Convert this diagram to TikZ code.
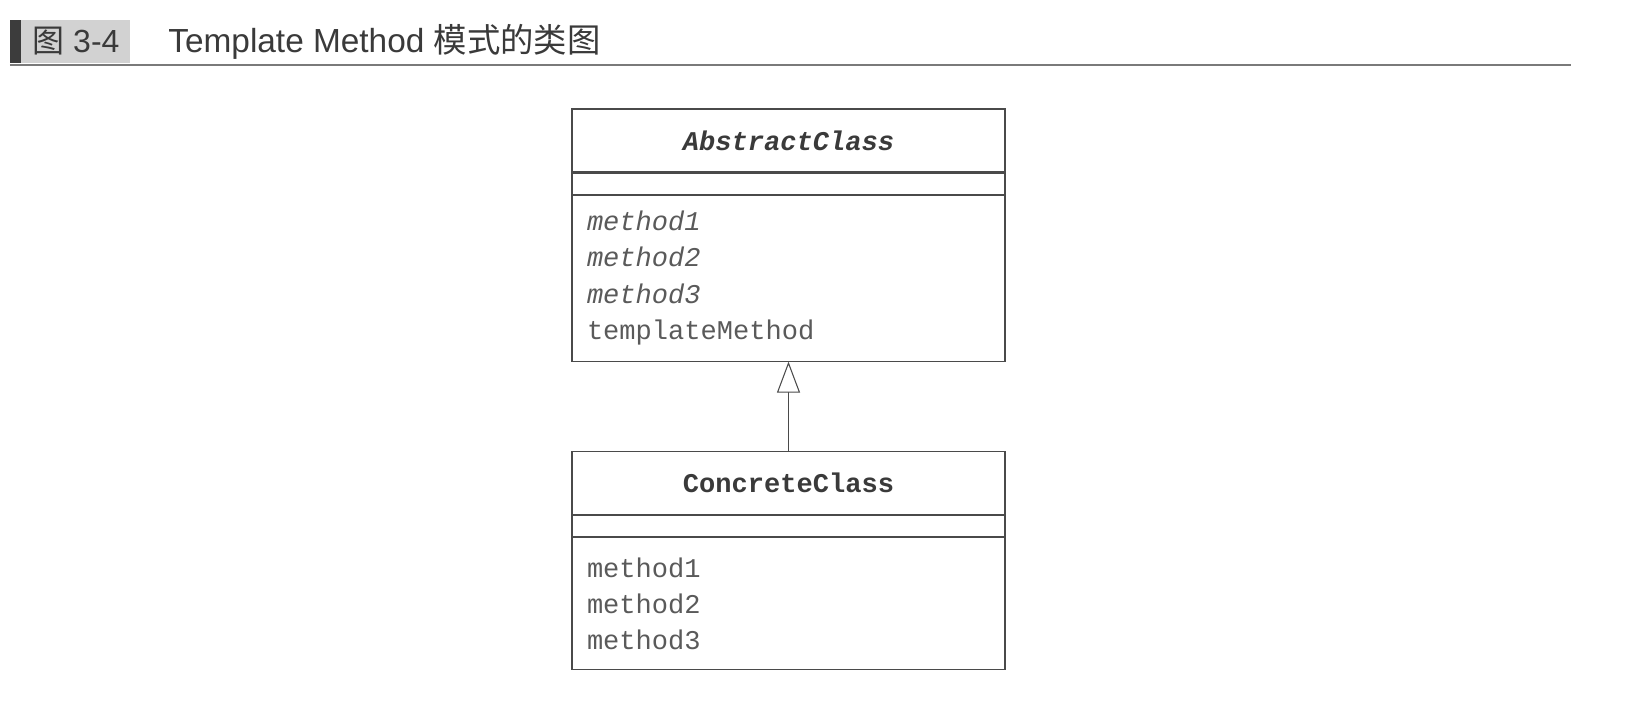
\documentclass[tikz,border=0pt]{standalone}
\usepackage{fontspec}
\setmainfont{Liberation Sans}
\setmonofont{Liberation Mono}
\newfontfamily\cjk{Noto Sans CJK SC}
\usetikzlibrary{positioning,arrows.meta}
\definecolor{umlline}{HTML}{4A4A4A}
\definecolor{umltext}{HTML}{5A5A5A}
\definecolor{umltitle}{HTML}{3A3A3A}
\definecolor{capbar}{HTML}{3C3C3C}
\definecolor{capbox}{HTML}{D2D2D2}
\definecolor{caprule}{HTML}{7A7A7A}
\tikzset{
	classname/.style={draw=umlline, line width=0.6pt, minimum width=8.66cm, minimum height=1.26cm, inner sep=0pt, text=umltitle, font=\ttfamily\fontsize{15.4}{20.6}\selectfont\bfseries},
	classattr/.style={draw=umlline, line width=0.6pt, minimum width=8.66cm, minimum height=0.42cm, inner sep=0pt},
	classops/.style={draw=umlline, line width=0.6pt, text width=8.06cm, inner xsep=0.3cm, inner ysep=0pt, align=left, text=umltext, font=\ttfamily\fontsize{15.4}{20.6}\selectfont},
	inherit/.style={draw=umlline, line width=0.6pt, -{Triangle[open, length=0.62cm, width=0.46cm, fill=white]}}
}
\begin{document}
\begin{tikzpicture}
		\useasboundingbox (0,0) rectangle (32.72,14.24);
		\fill[capbar] (0.2,12.98) rectangle (0.42,13.84);
		\fill[capbox] (0.42,12.98) rectangle (2.6,13.84);
		\draw[caprule, line width=1.2pt] (0.2,12.94) -- (31.42,12.94);
		\node[anchor=base west, inner sep=0pt, text=umltitle, font=\fontsize{18.2}{22}\selectfont] (fignum) at (0.64,13.18) {{\cjk 图} 3-4};
		\node[anchor=base west, inner sep=0pt, text=umltitle, font=\fontsize{19}{22}\selectfont] (figtitle) at (3.36,13.18) {Template Method {\cjk 模式的类图}};
		\node[classname] (abstract) at (15.77,11.43) {\itshape AbstractClass};
		\node[classattr, below=0pt of abstract] (abstractattr) {};
		\node[classops, minimum height=3.32cm, below=0pt of abstractattr] (abstractops) {{\itshape method1}\\ {\itshape method2}\\ {\itshape method3}\\ templateMethod};
		\node[classname] (concrete) at (15.77,4.58) {ConcreteClass};
		\node[classattr, below=0pt of concrete] (concreteattr) {};
		\node[classops, minimum height=2.64cm, below=0pt of concreteattr] (concreteops) {method1\\ method2\\ method3};
		\draw[inherit] (concrete.north) -- (abstractops.south);
	\end{tikzpicture}
\end{document}
